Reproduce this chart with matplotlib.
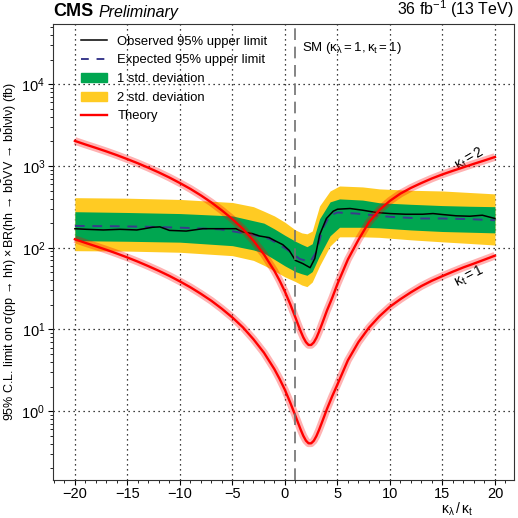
import numpy as np
import matplotlib
matplotlib.use("Agg")
import matplotlib.pyplot as plt
from matplotlib.lines import Line2D
from matplotlib.patches import Patch
from matplotlib.ticker import LogLocator, MultipleLocator, NullFormatter

plt.rcParams['font.family'] = ['Liberation Sans', 'DejaVu Sans']
plt.rcParams['mathtext.fontset'] = 'custom'
plt.rcParams['mathtext.rm'] = 'Liberation Sans'
plt.rcParams['mathtext.it'] = 'Liberation Sans:italic'
plt.rcParams['mathtext.bf'] = 'Liberation Sans:bold'

# uncertainty bands (fb)
band_x = [-20, -15, -10, -5, -3, -2, -1, 0, 1, 1.6, 2.1, 2.6, 3.3, 4.3, 5.2, 7.4, 9, 12, 15, 17.5, 20]
two_sig_hi = [410, 404, 390, 358, 318, 280, 245, 205, 165, 152, 148, 160, 325, 495, 570, 555, 525, 505, 495, 475, 456]
one_sig_hi = [276, 270, 262, 245, 214, 200, 170, 142, 120, 110, 103, 112, 226, 364, 396, 383, 355, 340, 328, 322, 318]
one_sig_lo = [122, 120, 117, 106, 94, 86, 72, 60, 51, 48, 46, 51, 80, 140, 178, 178, 175, 165, 158, 155, 152]
two_sig_lo = [92, 91, 88, 80, 70, 61, 52, 44, 38.5, 35, 33.4, 38, 60, 105, 136, 136, 134, 125, 118, 113, 108]

# expected limit
exp_x = [-20, -15.7, -12.6, -9.4, -6.2, -5, -3.1, -1.5, 0.1, 1.4, 2.4, 3.0, 3.6, 4.3, 5, 6.8, 10, 13, 15, 17.5, 20]
exp_y = [185, 183, 180, 175, 168, 159, 145, 129, 97, 73, 67, 89, 172, 250, 270, 262, 239, 228, 228, 224, 217]

# observed limit
obs_x = [-20, -18.9, -17.3, -15.7, -14.1, -12.6, -11.9, -11.0, -9.4, -7.8, -6.2, -4.65, -4.0, -3.1,
         -2.4, -1.5, -0.85, -0.2, 0.4, 1.0, 1.7, 2.4, 2.85, 3.3, 3.95, 4.6, 5, 6.2, 7.4, 8.7, 10,
         11.5, 13.1, 14.1, 15, 16.3, 17.6, 18.8, 20]
obs_y = [171, 168, 165, 168, 165, 178, 180, 163, 160, 171, 171, 171, 156, 149,
         139, 133, 120, 109, 93, 70, 64, 57, 74, 143, 228, 280, 296, 302, 288, 270, 262,
         257, 257, 262, 255, 246, 243, 250, 228]

# theory, kappa_t = 1 and kappa_t = 2
th_x = [-20, -19, -18, -17, -16, -15, -14, -13, -12, -11, -10, -9, -8, -7, -6, -5, -4, -3, -2, -1,
        -0.5, 0, 0.5, 1.0, 1.25, 1.5, 1.75, 2.0, 2.25, 2.5, 2.75, 3.0, 3.25, 3.5, 3.75, 4.0, 4.5,
        5, 6, 7, 8, 9, 10, 11, 12, 13, 14, 15, 16, 17, 18, 19, 20]
th1_y = [127, 114.7, 104.2, 94.3, 84.9, 76, 67.5, 59.5, 52.1, 45.2, 38.7, 32.8, 27.3, 22.4, 17.9,
         14.0, 10.6, 7.6, 5.2, 3.26, 2.47, 1.82, 1.28, 0.876, 0.72, 0.594, 0.499, 0.436, 0.404,
         0.404, 0.434, 0.496, 0.589, 0.714, 0.869, 1.06, 1.52, 2.12, 4.2, 7.0, 10.5, 14.5, 19,
         23.5, 28.5, 34, 39.5, 45, 51, 57.5, 64, 71.5, 80]
th2_y = [2030, 1835, 1667, 1509, 1358, 1214, 1080, 952, 834, 723, 619, 525, 437, 358, 286, 224,
         170, 122, 83, 52, 39.5, 29, 20.5, 14, 11.5, 9.5, 8.0, 7.0, 6.46, 6.46, 6.94, 7.9, 9.4,
         11.4, 13.9, 17, 24.3, 36, 72, 125, 205, 290, 375, 460, 540, 620, 705, 790, 875, 965,
         1065, 1170, 1290]

fig = plt.figure(figsize=(5.18, 5.18), dpi=100)
ax = fig.add_axes([0.102, 0.074, 0.890, 0.880])

ax.fill_between(band_x, two_sig_lo, two_sig_hi, color='#FFCB23', lw=0, zorder=2)
ax.fill_between(band_x, one_sig_lo, one_sig_hi, color='#00A650', lw=0, zorder=3)
ax.plot(exp_x, exp_y, color='#3A3A8C', lw=1.4, ls=(0, (5, 4)), zorder=4)
ax.plot(obs_x, obs_y, color='black', lw=1.1, zorder=5)

for ty in (th1_y, th2_y):
    ax.plot(th_x, ty, color='red', lw=5.5, alpha=0.3, solid_capstyle='butt', zorder=6)
    ax.plot(th_x, ty, color='red', lw=1.7, zorder=7)

ax.axvline(1, color='#707070', lw=1.2, ls=(0, (7, 4)), zorder=8)

ax.set_yscale('log')
ax.set_xlim(-22.1, 21.8)
ax.set_ylim(0.145, 55000)
ax.xaxis.set_major_locator(MultipleLocator(5))
ax.xaxis.set_minor_locator(MultipleLocator(1))
ax.yaxis.set_major_locator(LogLocator(base=10, numticks=10))
ax.yaxis.set_minor_locator(LogLocator(base=10, subs=np.arange(2, 10), numticks=20))
ax.yaxis.set_minor_formatter(NullFormatter())
ax.grid(True, which='major', color='black', ls=(0, (1, 3)), lw=0.9, zorder=1)
ax.tick_params(labelsize=10.5, pad=2)
for sp in ax.spines.values():
    sp.set_color('#333333')

ax.set_xlabel(r'$\mathrm{\kappa_\lambda\,/\,\kappa_t}$', fontsize=10)
ax.xaxis.set_label_coords(0.876, -0.046)
ax.set_ylabel(r'95% C.L. limit on $\mathrm{\sigma(pp\,\rightarrow\,hh)\times BR(hh\,\rightarrow\,b\bar{b}VV\,\rightarrow\,b\bar{b}l\nu l\nu)}$ (fb)',
              fontsize=9.0, labelpad=2)

ax.text(1.6, 28000, r'SM ($\mathrm{\kappa_\lambda = 1, \kappa_t = 1}$)', fontsize=9.5, va='center')
ax.text(17.6, 1217, r'$\mathrm{\kappa_t = 2}$', fontsize=10, rotation=30, ha='center', va='center')
ax.text(17.6, 45, r'$\mathrm{\kappa_t = 1}$', fontsize=10, rotation=27, ha='center', va='center')

ax.text(0.0, 1.008, 'CMS', transform=ax.transAxes, fontsize=13, weight='bold', va='bottom')
ax.text(0.098, 1.008, 'Preliminary', transform=ax.transAxes, fontsize=11.5, style='italic', va='bottom')
ax.text(1.0, 1.008, r'36 fb$^{-1}$ (13 TeV)', transform=ax.transAxes, fontsize=11.5, ha='right', va='bottom')

handles = [
    Line2D([], [], color='black', lw=1.1),
    Line2D([], [], color='#3A3A8C', lw=1.4, ls=(0, (4, 4))),
    Patch(color='#00A650'),
    Patch(color='#FFCB23'),
    Line2D([], [], color='red', lw=1.7),
]
labels = ['Observed 95% upper limit', 'Expected 95% upper limit', '1 std. deviation',
          '2 std. deviation', 'Theory']
ax.legend(handles, labels, loc='upper left', bbox_to_anchor=(0.035, 1.0), frameon=False,
          fontsize=9.4, labelspacing=0.5, handlelength=2.0, handletextpad=0.8)

fig.savefig('out.png', dpi=100)
